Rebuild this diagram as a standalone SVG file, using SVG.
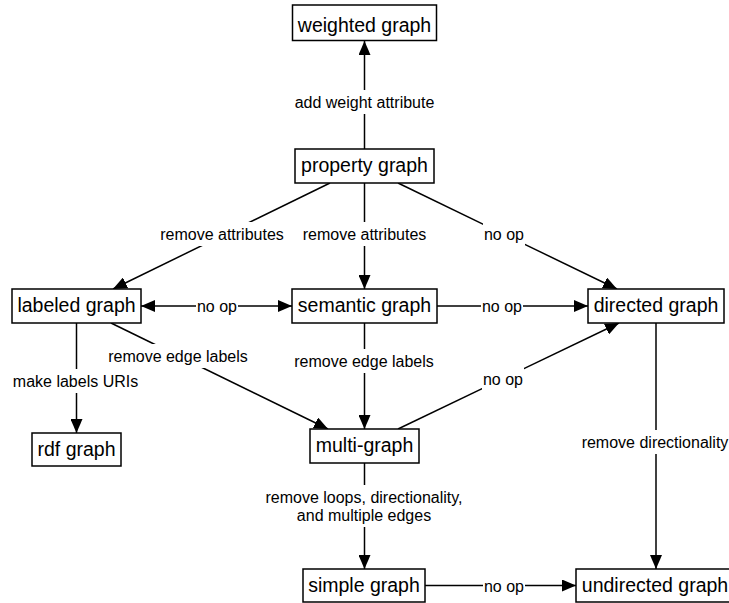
<svg xmlns="http://www.w3.org/2000/svg" width="729" height="603" viewBox="0 0 729 603">
<style>
.node rect{fill:#fff;stroke:#000;stroke-width:1.5}
.node text{font-family:"Liberation Sans",Arial,sans-serif;font-size:19.5px;fill:#000;text-anchor:middle}
.edge line{stroke:#000;stroke-width:1.5;fill:none}
.lbl rect{fill:#fff;stroke:none}
.lbl text{font-family:"Liberation Sans",Arial,sans-serif;font-size:16px;fill:#000;text-anchor:middle}
</style>
<defs>
<marker id="ah" viewBox="0 0 14 12" refX="14" refY="6" markerWidth="14" markerHeight="12" markerUnits="userSpaceOnUse" orient="auto-start-reverse">
<path d="M0,0 L14,6 L0,12 z" fill="#000"/>
</marker>
</defs>
<rect width="729" height="603" fill="#fff"/>
<g id="connectors">
<g class="edge">
<line x1="364.5" y1="149" x2="364.5" y2="41" marker-end="url(#ah)"/>
<line x1="330" y1="183" x2="113" y2="289" marker-end="url(#ah)"/>
<line x1="364.5" y1="183" x2="364.5" y2="289" marker-end="url(#ah)"/>
<line x1="398" y1="183" x2="617" y2="289" marker-end="url(#ah)"/>
<line x1="141" y1="306" x2="292" y2="306" marker-start="url(#ah)" marker-end="url(#ah)"/>
<line x1="437" y1="306" x2="588" y2="306" marker-end="url(#ah)"/>
<line x1="76.5" y1="323" x2="76.5" y2="433" marker-end="url(#ah)"/>
<line x1="111" y1="323" x2="328" y2="429" marker-end="url(#ah)"/>
<line x1="364.5" y1="323" x2="364.5" y2="429" marker-end="url(#ah)"/>
<line x1="398" y1="429" x2="619" y2="323" marker-end="url(#ah)"/>
<line x1="364.5" y1="463" x2="364.5" y2="569" marker-end="url(#ah)"/>
<line x1="656" y1="323" x2="656" y2="569" marker-end="url(#ah)"/>
<line x1="425" y1="585.5" x2="576" y2="585.5" marker-end="url(#ah)"/>
</g>
<g class="lbl">
<rect x="293" y="90" width="143" height="24"/><text x="364.5" y="108">add weight attribute</text>
<rect x="159" y="222" width="126" height="24"/><text x="222" y="240">remove attributes</text>
<rect x="302" y="222" width="126" height="24"/><text x="364.5" y="240">remove attributes</text>
<rect x="483" y="222" width="42" height="24"/><text x="504" y="240">no op</text>
<rect x="196" y="294" width="42" height="24"/><text x="217" y="312">no op</text>
<rect x="481" y="294" width="42" height="24"/><text x="502" y="312">no op</text>
<rect x="12" y="369" width="127" height="24"/><text x="75.5" y="387">make labels URIs</text>
<rect x="107" y="344" width="142" height="24"/><text x="178" y="362">remove edge labels</text>
<rect x="293" y="349" width="142" height="24"/><text x="364" y="367">remove edge labels</text>
<rect x="482" y="367" width="42" height="24"/><text x="503" y="385">no op</text>
<rect x="263" y="485" width="202" height="42"/><text x="364" y="503">remove loops, directionality,</text><text x="364" y="521">and multiple edges</text>
<rect x="581" y="430" width="150" height="24"/><text x="655" y="448">remove directionality</text>
<rect x="483" y="574" width="42" height="24"/><text x="504" y="592">no op</text>
</g>
</g>
<g id="weighted" class="node"><rect x="292.5" y="5" width="144" height="35.5"/><text x="364.5" y="31.5">weighted graph</text></g>
<g id="property" class="node"><rect x="295" y="149" width="139" height="34"/><text x="364.5" y="172">property graph</text></g>
<g id="labeled" class="node"><rect x="12" y="289" width="129" height="34"/><text x="76.5" y="312">labeled graph</text></g>
<g id="semantic" class="node"><rect x="292" y="289" width="145" height="34"/><text x="364.5" y="312">semantic graph</text></g>
<g id="directed" class="node"><rect x="588" y="289" width="136" height="34"/><text x="656" y="312">directed graph</text></g>
<g id="rdf" class="node"><rect x="32" y="433" width="89" height="33"/><text x="76.5" y="455.5">rdf graph</text></g>
<g id="multi" class="node"><rect x="310" y="429" width="109" height="34"/><text x="364.5" y="452">multi-graph</text></g>
<g id="simple" class="node"><rect x="303" y="569" width="122" height="33"/><text x="364" y="592">simple graph</text></g>
<g id="undirected" class="node"><rect x="576" y="569" width="160" height="33"/><text x="655" y="592">undirected graph</text></g>
</svg>
